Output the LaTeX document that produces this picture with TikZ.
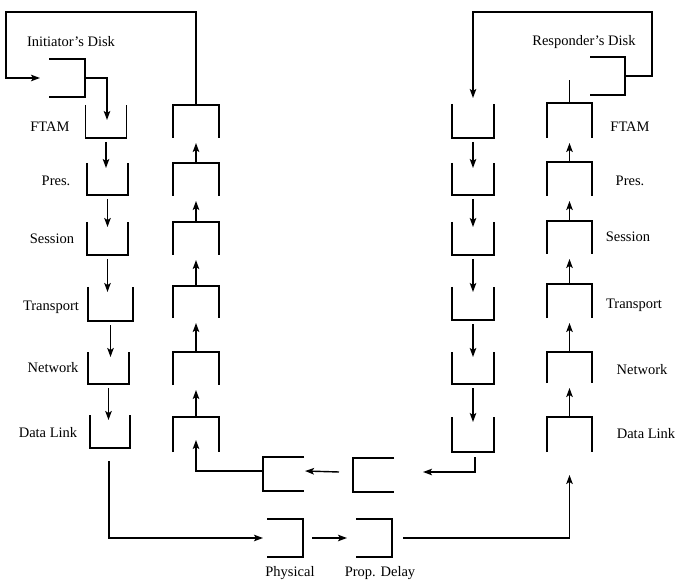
\documentclass[tikz,border=0pt]{standalone}
\usepackage{fontspec}
\setmainfont{Liberation Serif}
\usetikzlibrary{arrows.meta,calc}
\begin{document}
\begin{tikzpicture}[x=1pt,y=-1pt,
  line width=1.4pt,
  slot/.style={inner sep=0pt,outer sep=0pt,draw=none},
  arr/.style={-{Stealth[length=9pt,width=6.5pt,inset=2pt]}},
  lbl/.style={font=\fontsize{14.5}{16}\selectfont,inner sep=0pt}]
\useasboundingbox (0,0) rectangle (675,580);
% ---- left down cups (initiator send)
\node[slot,minimum width=41pt,minimum height=33pt] (ld1) at (106,121.5) {};
\node[slot,minimum width=41pt,minimum height=32pt] (ld2) at (107.5,179) {};
\node[slot,minimum width=41pt,minimum height=33pt] (ld3) at (107.5,238.5) {};
\node[slot,minimum width=45pt,minimum height=34pt] (ld4) at (110.5,304) {};
\node[slot,minimum width=41pt,minimum height=32pt] (ld5) at (108.5,368) {};
\node[slot,minimum width=40pt,minimum height=33pt] (ld6) at (110,431.5) {};
% ---- left up caps (initiator receive)
\node[slot,minimum width=46pt,minimum height=33pt] (lu1) at (196,121.5) {};
\node[slot,minimum width=46pt,minimum height=33pt] (lu2) at (196,179.5) {};
\node[slot,minimum width=46pt,minimum height=33pt] (lu3) at (196,238.5) {};
\node[slot,minimum width=46pt,minimum height=32pt] (lu4) at (196,302) {};
\node[slot,minimum width=46pt,minimum height=33pt] (lu5) at (196,368.5) {};
\node[slot,minimum width=46pt,minimum height=35pt] (lu6) at (196,434.5) {};
% ---- right down cups (responder receive)
\node[slot,minimum width=42pt,minimum height=34pt] (rd1) at (473,121) {};
\node[slot,minimum width=42pt,minimum height=32pt] (rd2) at (473,179) {};
\node[slot,minimum width=42pt,minimum height=33pt] (rd3) at (473,238.5) {};
\node[slot,minimum width=42pt,minimum height=33pt] (rd4) at (473,303.5) {};
\node[slot,minimum width=42pt,minimum height=32pt] (rd5) at (473,368) {};
\node[slot,minimum width=42pt,minimum height=35pt] (rd6) at (473,434.5) {};
% ---- right up caps (responder send)
\node[slot,minimum width=45pt,minimum height=35pt] (ru1) at (569.5,120.5) {};
\node[slot,minimum width=45pt,minimum height=34pt] (ru2) at (569.5,179) {};
\node[slot,minimum width=45pt,minimum height=33pt] (ru3) at (569.5,237.5) {};
\node[slot,minimum width=45pt,minimum height=34pt] (ru4) at (569.5,301) {};
\node[slot,minimum width=45pt,minimum height=31pt] (ru5) at (569.5,367.5) {};
\node[slot,minimum width=45pt,minimum height=35pt] (ru6) at (569.5,434.5) {};
% ---- boxes
\node[slot,minimum width=36pt,minimum height=38pt] (idisk) at (67,78) {};
\node[slot,minimum width=35pt,minimum height=38pt] (rdisk) at (607.5,76) {};
\node[slot,minimum width=36pt,minimum height=38pt] (phys) at (285,538) {};
\node[slot,minimum width=36pt,minimum height=38pt] (pdel) at (374,538) {};
\node[slot,minimum width=41pt,minimum height=34pt] (ra) at (283.5,474) {};
\node[slot,minimum width=41pt,minimum height=34pt] (rb) at (373.5,475) {};
% ---- draw shapes
\foreach \n in {ld1,ld2,ld3,ld4,ld5,ld6,rd1,rd2,rd3,rd4,rd5,rd6}
  \draw (\n.north west) |- (\n.south east) -- (\n.north east);
\foreach \n in {lu1,lu2,lu3,lu4,lu5,lu6,ru1,ru2,ru3,ru4,ru5,ru6}
  \draw (\n.south west) |- (\n.north east) -- (\n.south east);
\foreach \n in {idisk,rdisk,phys,pdel}
  \draw (\n.north west) -- (\n.north east) -- (\n.south east) -- (\n.south west);
\foreach \n in {ra,rb}
  \draw (\n.north east) -- (\n.north west) -- (\n.south west) -- (\n.south east);
% ---- vertical arrows in the stacks
\foreach \a/\b in {ld1/ld2,ld2/ld3,ld3/ld4,ld4/ld5,ld5/ld6,rd1/rd2,rd2/rd3,rd3/rd4,rd4/rd5,rd5/rd6}
  \draw[arr] ($(\a.south)+(0,4)$) -- ($(\a.south |- \b.north)+(0,5)$);
\foreach \a/\b in {lu2/lu1,lu3/lu2,lu4/lu3,lu5/lu4,lu6/lu5,ru2/ru1,ru3/ru2,ru4/ru3,ru5/ru4,ru6/ru5}
  \draw[arr] (\a.north) -- ($(\b.south)+(0,5)$);
% ---- top connectors
\coordinate (tl) at (6,12);
\coordinate (tr) at (652,12);
\draw[arr] (idisk.east) -| ($(ld1.north)+(1,15)$);
\draw[arr] (lu1.north) |- (tl) |- ($(idisk.west)+(-9,0)$);
\draw[arr] (rdisk.east) -| (tr) -| ($(rd1.north)+(0,-6)$);
\draw (ru1.north) -- ($(ru1.north)+(0,-23)$);
% ---- bottom connectors
\draw[arr] ($(ld6.south)+(-1,13)$) |- ($(phys.west)+(-4,0)$);
\draw[arr] ($(phys.east)+(9,0)$) -- ($(pdel.west)+(-9,0)$);
\draw[arr] ($(pdel.east)+(11,0)$) -| ($(ru6.south)+(0,23)$);
\draw[arr] ($(rd6.south)+(2,5)$) |- ($(rb.east)+(29,-3)$);
\draw[arr] ($(rb.west)+(-14,-3)$) -- ($(ra.east)+(1,-3)$);
\draw[arr] ($(ra.west)+(0,-3)$) -| ($(lu6.south)+(0,-12)$);
% ---- labels
\node[lbl] (tid) at (71,42) {Initiator's Disk};
\node[lbl] (trd) at (584,42) {Responder's Disk};
\node[lbl] (l1) at (50,127) {FTAM};
\node[lbl] (l2) at (56,181) {Pres.};
\node[lbl] (l3) at (52,239) {Session};
\node[lbl] (l4) at (51,307) {Transport};
\node[lbl] (l5) at (53,368) {Network};
\node[lbl] (l6) at (48,433) {Data Link};
\node[lbl] (r1) at (630,127) {FTAM};
\node[lbl] (r2) at (630,181) {Pres.};
\node[lbl] (r3) at (628,237) {Session};
\node[lbl] (r4) at (634,305) {Transport};
\node[lbl] (r5) at (642,370) {Network};
\node[lbl] (r6) at (646,434) {Data Link};
\node[lbl] (tph) at (290,573) {Physical};
\node[lbl] (tpd) at (380,573) {Prop. Delay};
\end{tikzpicture}
\end{document}
